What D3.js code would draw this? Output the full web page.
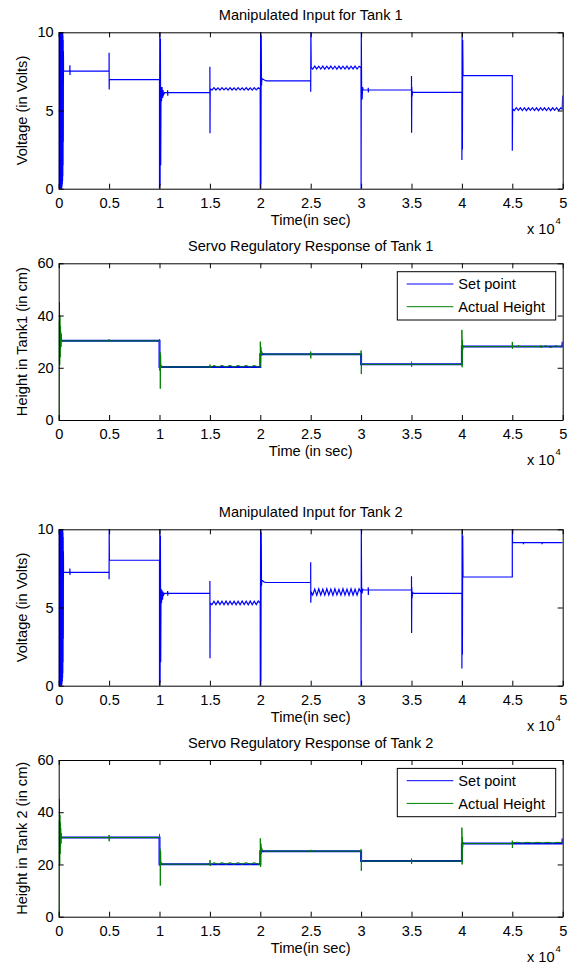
<!DOCTYPE html>
<html>
<head>
<meta charset="utf-8">
<script src="https://cdn.jsdelivr.net/npm/d3@7"></script>
<style>
  body { margin: 0; background: #fff; }
  svg { display: block; }
</style>
</head>
<body>
<div id="chart"></div>
<script>
// ---- data (time in seconds) ----
const xTicks = [0, 5000, 10000, 15000, 20000, 25000, 30000, 35000, 40000, 45000, 50000];
const voltTicks = [0, 5, 10];
const heightTicks = [0, 20, 40, 60];
const titles = ["Manipulated Input for Tank 1", "Servo Regulatory Response of Tank 1",
                "Manipulated Input for Tank 2", "Servo Regulatory Response of Tank 2"];
const xLabels = ["Time(in sec)", "Time (in sec)", "Time(in sec)", "Time(in sec)"];
const yLabels = ["Voltage (in Volts)", "Height in Tank1 (in cm)", "Voltage (in Volts)", "Height in Tank 2 (in cm)"];
const legendNames = ["Set point", "Actual Height"];

// manipulated input, tank 1
const u1 = [
  [0,0],[12,10],[24,0],[36,10],[48,0],[60,10],[72,0],[84,10],[96,0],[108,10],[120,0],[132,10],[144,0],[156,10],[168,0],[180,10],
  [192,0],[204,10],[216,0],[228,10],[240,0],[252,10],[264,0],[276,10],[288,0],[300,10],[312,0.1],[324,10],[336,0.2],[348,10],
  [360,0.3],[372,10],[384,0.5],[396,9.9],[408,0.8],[420,9.8],[432,1.5],[444,9.5],[456,3],[468,8.8],[480,7.52],
  [1100,7.52],[1110,7.9],[1120,7.27],[1130,7.52],
  [5000,7.52],[5000,8.7],[5010,6.35],[5020,6.97],
  [10000,6.97],[10000,0],[10030,10],[10060,0.2],[10090,9.6],[10120,1.5],[10150,6.5],[10200,5.6],[10250,6.5],[10300,5.8],[10350,6.3],[10400,6.0],[10500,6.14],
  [10800,6.14],[10810,6.3],[10820,5.95],[10830,6.14],
  [15000,6.14],[15000,7.8],[15010,3.54],[15030,6.4],
  [15200,6.3],[15400,6.46],[15600,6.31],[15800,6.45],[16000,6.3],[16200,6.46],[16400,6.32],[16600,6.45],[16800,6.3],[17000,6.46],
  [17200,6.31],[17400,6.45],[17600,6.3],[17800,6.46],[18000,6.32],[18200,6.45],[18400,6.3],[18600,6.46],[18800,6.31],[19000,6.45],
  [19200,6.3],[19400,6.46],[19600,6.32],[19800,6.45],[19990,6.38],
  [20000,0],[20030,10],[20060,0.3],[20090,9.8],[20120,6.6],[20150,7.05],[20400,6.95],[20600,6.9],
  [25000,6.9],[25000,6.2],[25020,10],[25050,7.74],
  [25200,7.65],[25400,7.84],[25600,7.66],[25800,7.83],[26000,7.65],[26200,7.84],[26400,7.64],[26600,7.83],[26800,7.66],[27000,7.84],
  [27200,7.65],[27400,7.83],[27600,7.64],[27800,7.84],[28000,7.66],[28200,7.83],[28400,7.65],[28600,7.84],[28800,7.64],[29000,7.83],
  [29200,7.66],[29400,7.84],[29600,7.65],[29800,7.83],[29990,7.74],
  [30000,0],[30020,10],[30050,6.6],[30100,5.7],[30150,6.5],[30200,6.31],
  [30700,6.31],[30710,6.46],[30720,6.16],[30730,6.31],
  [35000,6.31],[35000,7.2],[35010,3.58],[35030,6.5],[35060,5.9],[35100,6.2],[35150,6.16],
  [40000,6.16],[40000,1.83],[40020,10],[40050,2.5],[40080,9.5],[40110,7.23],
  [45000,7.23],[45000,2.43],[45030,5.1],
  [45200,5.0],[45400,5.18],[45600,5.01],[45800,5.17],[46000,5.0],[46200,5.18],[46400,4.99],[46600,5.17],[46800,5.01],[47000,5.18],
  [47200,5.0],[47400,5.17],[47600,4.99],[47800,5.18],[48000,5.01],[48200,5.17],[48400,5.0],[48600,5.18],[48800,4.99],[49000,5.17],
  [49200,5.01],[49400,5.18],[49600,5.0],[49800,5.17],[49950,5.08],
  [50000,5.95]
];

// set point and actual height, tank 1
const sp1 = [
  [0,30.3],[10000,30.3],[10000,20.3],[20000,20.3],[20000,25.2],[30000,25.2],
  [30000,21.3],[40000,21.3],[40000,28.1],[49950,28.1],[50000,30]
];
const h1 = [
  [0,0],[20,20],[40,38],[60,22],[80,45],[100,21],[120,40],[140,24],[160,36],[180,27],[200,34],[230,28],[260,33],[300,30],[350,30.3],
  [4990,30.3],[5000,30.9],[5010,29.9],[5020,30.3],
  [10000,30.3],[10000,31],[10020,19],[10050,26],[10080,12],[10110,25],[10140,20],[10200,21],[10300,20.3],
  [15000,20.3],[15010,21.2],[15020,20],
  [15400,20.9],[15800,20.3],[16200,20.9],[16600,20.3],[17000,20.9],[17400,20.3],[17800,20.9],[18200,20.3],[18600,20.9],[19000,20.3],[19400,20.9],[19800,20.3],
  [20000,20.3],[20000,30],[20030,22],[20060,28],[20090,24.5],[20120,26.5],[20200,25.5],[20400,25.2],
  [25000,25.2],[25000,26.2],[25010,23.6],[25020,25.2],
  [30000,25.2],[30000,26.6],[30020,17.6],[30050,21.8],[30100,21.3],
  [35000,21.3],[35000,22.3],[35010,20.4],[35020,21.3],
  [40000,21.3],[40000,34.5],[40020,20.2],[40050,30.6],[40080,26.8],[40110,28.5],[40200,28.1],
  [45000,28.1],[45000,29.9],[45010,27.3],[45020,28.1],
  [45600,28.1],[45610,28.7],[45620,28.1],
  [47800,28.1],[47810,28.6],[47820,27.8],[48300,28.4],[48800,27.8],[49300,28.4],[49800,28.0],[49950,28.1]
];

// manipulated input, tank 2
const u2 = [
  [0,0],[12,10],[24,0],[36,10],[48,0],[60,10],[72,0],[84,10],[96,0],[108,10],[120,0],[132,10],[144,0],[156,10],[168,0],[180,10],
  [192,0],[204,10],[216,0],[228,10],[240,0],[252,10],[264,0],[276,10],[288,0],[300,10],[312,0.1],[324,10],[336,0.2],[348,10],
  [360,0.3],[372,10],[384,0.5],[396,9.9],[408,0.8],[420,9.8],[432,1.5],[444,9.5],[456,3],[468,8.6],[480,7.25],
  [1100,7.25],[1110,7.5],[1120,7.08],[1130,7.25],
  [5000,7.25],[5000,6.8],[5010,10],[5030,8.02],
  [10000,8.02],[10000,0],[10030,10],[10060,0.2],[10090,9.6],[10120,1.5],[10150,6.2],[10200,5.27],[10250,6.1],[10300,5.5],[10350,6.0],[10400,5.8],[10500,5.9],
  [10800,5.9],[10810,6.05],[10820,5.76],[10830,5.9],
  [15000,5.9],[15000,6.7],[15010,1.75],[15030,5.3],
  [15200,5.18],[15400,5.4],[15600,5.17],[15800,5.41],[16000,5.19],[16200,5.4],[16400,5.18],[16600,5.42],[16800,5.17],[17000,5.4],
  [17200,5.19],[17400,5.41],[17600,5.18],[17800,5.4],[18000,5.17],[18200,5.42],[18400,5.19],[18600,5.4],[18800,5.18],[19000,5.41],
  [19200,5.17],[19400,5.4],[19600,5.19],[19800,5.41],[19990,5.29],
  [20000,0],[20030,10],[20060,0.3],[20090,9.8],[20120,6.4],[20150,6.76],[20400,6.62],[20600,6.6],
  [25000,6.6],[25000,7.89],[25010,5.31],[25040,6.0],
  [25200,5.8],[25400,6.18],[25600,5.78],[25800,6.2],[26000,5.8],[26200,6.17],[26400,5.79],[26600,6.2],[26800,5.8],[27000,6.18],
  [27200,5.78],[27400,6.2],[27600,5.81],[27800,6.17],[28000,5.79],[28200,6.2],[28400,5.8],[28600,6.18],[28800,5.78],[29000,6.2],
  [29200,5.8],[29400,6.17],[29600,5.79],[29800,6.2],[29990,5.97],
  [30000,0],[30020,10],[30050,6.3],[30100,5.9],[30150,6.2],[30200,6.12],
  [30700,6.12],[30710,6.29],[30720,5.8],[30730,6.12],
  [35000,6.12],[35000,7.0],[35010,3.37],[35030,6.3],[35060,5.6],[35100,6.0],[35150,5.9],
  [40000,5.9],[40000,1.1],[40020,10],[40050,2.0],[40080,9.6],[40110,6.95],
  [45000,6.95],[45000,10],[45020,9.15],
  [46100,9.15],[46110,9.05],[46120,9.15],[47950,9.15],[47960,9.05],[47970,9.15],[50000,9.15]
];

// set point and actual height, tank 2
const sp2 = [
  [0,30.3],[10000,30.3],[10000,20.1],[20000,20.1],[20000,25.1],[30000,25.1],
  [30000,21.3],[40000,21.3],[40000,28.0],[49950,28.0],[50000,30]
];
const h2 = [
  [0,0],[20,19],[40,37],[60,21],[80,45],[100,20],[120,39],[140,24],[160,36],[180,27],[200,34],[230,28],[260,32],[300,30],[350,30.3],
  [4990,30.3],[5000,31.3],[5010,28.9],[5020,30.3],
  [10000,30.3],[10000,31.7],[10020,19.5],[10050,26],[10080,11.9],[10110,25],[10140,20],[10200,20.8],[10300,20.1],
  [15000,20.1],[15010,21.7],[15020,19.5],
  [15400,20.7],[15800,20.1],[16200,20.7],[16600,20.1],[17000,20.7],[17400,20.1],[17800,20.7],[18200,20.1],[18600,20.7],[19000,20.1],[19400,20.7],[19800,20.1],
  [20000,20.1],[20000,30],[20030,19.1],[20060,28],[20090,24],[20120,26.5],[20200,25.5],[20400,25.1],
  [25000,25.1],[25000,25.6],[25010,24.8],[25020,25.1],
  [30000,25.1],[30000,25.8],[30020,17.6],[30050,21.8],[30100,21.3],
  [35000,21.3],[35000,22.2],[35010,20.2],[35020,21.3],
  [40000,21.3],[40000,34.1],[40020,20],[40050,30.5],[40080,26.5],[40110,28.5],[40200,28.0],
  [45000,28.0],[45000,29.1],[45010,26.3],[45020,28.3],
  [45500,28.5],[46000,28.2],[46500,28.5],[47000,28.2],[47500,28.5],[48000,28.2],[48500,28.5],[49000,28.2],[49500,28.5],[49950,28.3]
];

// ---- layout ----
const W = 572, H = 967;
const plotLeft = 58.7, plotRight = 562.7;
const font = "'Liberation Sans', Arial, Helvetica, sans-serif";
const fs = 14.6;

const panels = [
  { top: 32.3,  bottom: 188.7, yMax: 10, yTicks: voltTicks,   lines: [{ data: u1, color: "#0000ff", w: 1.2 }], legend: false },
  { top: 263.3, bottom: 420,   yMax: 60, yTicks: heightTicks, lines: [{ data: sp1, color: "#0000ff", w: 2 }, { data: h1, color: "#008000", w: 1 }], legend: true },
  { top: 529.3, bottom: 685.7, yMax: 10, yTicks: voltTicks,   lines: [{ data: u2, color: "#0000ff", w: 1.2 }], legend: false },
  { top: 760,   bottom: 916.7, yMax: 60, yTicks: heightTicks, lines: [{ data: sp2, color: "#0000ff", w: 2 }, { data: h2, color: "#008000", w: 1 }], legend: true }
];

const svg = d3.select("#chart").append("svg")
  .attr("width", W)
  .attr("height", H)
  .style("font-family", font);

const x = d3.scaleLinear().domain([0, 50000]).range([plotLeft, plotRight]);

panels.forEach((p, i) => {
  const y = d3.scaleLinear().domain([0, p.yMax]).range([p.bottom, p.top]);
  const g = svg.append("g");

  const clipId = "clip" + i;
  g.append("clipPath").attr("id", clipId)
    .append("rect")
    .attr("x", plotLeft).attr("y", p.top - 1)
    .attr("width", plotRight - plotLeft).attr("height", p.bottom - p.top + 2);

  const line = d3.line().x(d => x(d[0])).y(d => y(d[1]));

  p.lines.forEach(l => {
    g.append("path")
      .datum(l.data)
      .attr("clip-path", `url(#${clipId})`)
      .attr("fill", "none")
      .attr("stroke", l.color)
      .attr("stroke-width", l.w)
      .attr("d", line);
  });

  // box with inward ticks on all four sides
  const styleAxis = sel => {
    sel.selectAll("text").attr("font-family", font).attr("font-size", fs).attr("fill", "#000");
    sel.selectAll("line, path").attr("stroke", "#000");
    sel.attr("font-family", null).attr("font-size", null);
  };

  g.append("g")
    .attr("transform", `translate(0,${p.bottom})`)
    .call(d3.axisBottom(x).tickValues(xTicks).tickFormat(d => d / 10000)
      .tickSizeInner(-5).tickSizeOuter(0).tickPadding(8.5))
    .call(styleAxis);

  g.append("g")
    .attr("transform", `translate(0,${p.top})`)
    .call(d3.axisTop(x).tickValues(xTicks).tickFormat("")
      .tickSizeInner(-5).tickSizeOuter(0))
    .call(styleAxis);

  g.append("g")
    .attr("transform", `translate(${plotLeft},0)`)
    .call(d3.axisLeft(y).tickValues(p.yTicks)
      .tickSizeInner(-5).tickSizeOuter(0).tickPadding(5))
    .call(styleAxis);

  g.append("g")
    .attr("transform", `translate(${plotRight},0)`)
    .call(d3.axisRight(y).tickValues(p.yTicks).tickFormat("")
      .tickSizeInner(-5).tickSizeOuter(0))
    .call(styleAxis);

  // title
  g.append("text")
    .attr("x", (plotLeft + plotRight) / 2)
    .attr("y", p.top - 12)
    .attr("text-anchor", "middle")
    .attr("font-size", fs)
    .text(titles[i]);

  // x label
  g.append("text")
    .attr("x", (plotLeft + plotRight) / 2)
    .attr("y", p.bottom + 36)
    .attr("text-anchor", "middle")
    .attr("font-size", fs)
    .text(xLabels[i]);

  // exponent
  const ex = g.append("text")
    .attr("x", 527)
    .attr("y", p.bottom + 45)
    .attr("font-size", fs)
    .text("x 10");
  ex.append("tspan")
    .attr("font-size", 9.5)
    .attr("dy", -10)
    .attr("dx", 1)
    .text("4");

  // y label
  g.append("text")
    .attr("transform", `translate(27,${(p.top + p.bottom) / 2}) rotate(-90)`)
    .attr("text-anchor", "middle")
    .attr("font-size", fs)
    .text(yLabels[i]);

  // legend
  if (p.legend) {
    const lg = g.append("g");
    lg.append("rect")
      .attr("x", 397.3).attr("y", p.top + 8.4)
      .attr("width", 158.4).attr("height", 48.3)
      .attr("fill", "#fff").attr("stroke", "#000");
    p.lines.forEach((l, k) => {
      const ly = p.top + 20.7 + k * 22.7;
      lg.append("line")
        .attr("x1", 406.7).attr("x2", 453.3)
        .attr("y1", ly).attr("y2", ly)
        .attr("stroke", l.color).attr("stroke-width", 1);
      lg.append("text")
        .attr("x", 458.3).attr("y", ly)
        .attr("dy", "0.35em")
        .attr("font-size", fs)
        .text(legendNames[k]);
    });
  }
});
</script>
</body>
</html>
